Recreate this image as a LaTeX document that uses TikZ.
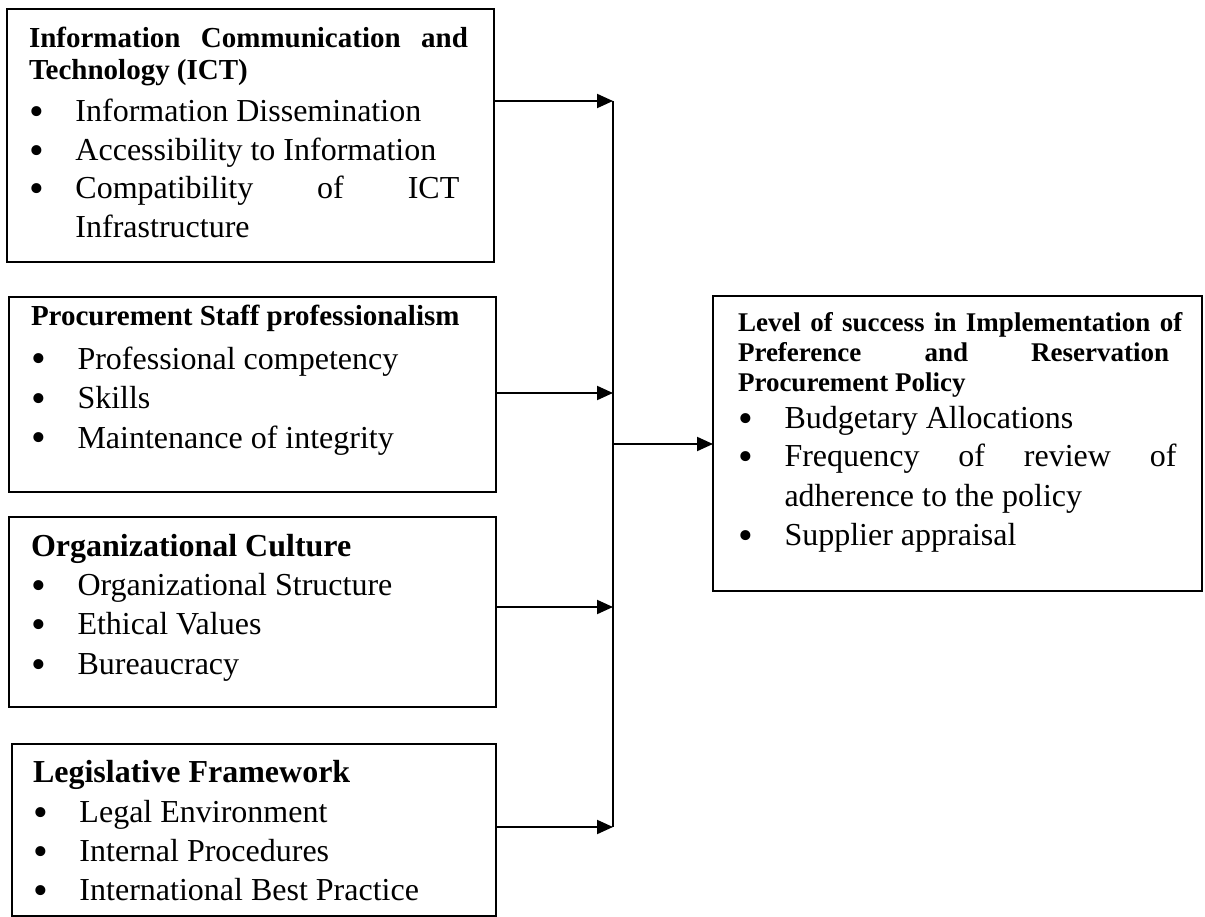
\documentclass[tikz,border=0pt]{standalone}
\usepackage{fontspec}
\setmainfont{Liberation Serif}
\usetikzlibrary{arrows.meta}
\tolerance=10000
\hbadness=10000
\hyphenpenalty=10000
\exhyphenpenalty=10000
\newcommand{\fs}[2]{\fontsize{#1}{#2}\selectfont\spaceskip=0.25em plus 3em minus 0.05em\relax\xspaceskip=\spaceskip}
\newcommand{\bul}{\makebox[46.5pt][l]{\raisebox{-4pt}{\fontsize{42}{42}\selectfont\symbol{"2022}}}}
\newcommand{\itm}[1]{\hangindent=46.5pt\hangafter=1\noindent\bul #1\par}
\tikzset{
  box/.style={draw, line width=2pt, inner sep=0pt, outer sep=0pt, anchor=north west},
  txt/.style={inner sep=0pt, outer sep=0pt, anchor=base west},
  arr/.style={line width=2pt, -{Triangle[length=16pt,width=14pt]}},
  vline/.style={line width=2pt}
}
\begin{document}
\begin{tikzpicture}[x=1pt,y=-1pt]
\useasboundingbox (0,0) rectangle (1205,917);
% boxes
\node[box, minimum width=487pt, minimum height=253pt] (ict) at (7,9) {};
\node[box, minimum width=487pt, minimum height=195pt] (staff) at (9,297) {};
\node[box, minimum width=487pt, minimum height=190pt] (cult) at (9,517) {};
\node[box, minimum width=484.5pt, minimum height=172pt] (legis) at (11.5,744) {};
\node[box, minimum width=489pt, minimum height=295pt] (out) at (713,296) {};
% texts
\node[txt, text width=442pt] (ictT) at (29,48) {\fs{29}{32}\bfseries Information Communication and\linebreak Technology (ICT)\par};
\node[txt, text width=442pt] (ictB) at (29,122) {\fs{32}{38.5}\itm{Information Dissemination}\itm{Accessibility to Information}\itm{Compatibility of ICT\linebreak Infrastructure}};
\node[txt, text width=442pt] (staffT) at (31,326) {\fs{29}{32}\bfseries Procurement Staff professionalism\par};
\node[txt, text width=442pt] (staffB) at (31,369) {\fs{32}{39.5}\itm{Professional competency}\itm{Skills}\itm{Maintenance of integrity}};
\node[txt, text width=442pt] (cultT) at (31,556) {\fs{32}{36}\bfseries Organizational Culture\par};
\node[txt, text width=442pt] (cultB) at (31,595) {\fs{32}{39.5}\itm{Organizational Structure}\itm{Ethical Values}\itm{Bureaucracy}};
\node[txt, text width=440pt] (legisT) at (33,782) {\fs{32}{36}\bfseries Legislative Framework\par};
\node[txt, text width=440pt] (legisB) at (33,822) {\fs{32}{39}\itm{Legal Environment}\itm{Internal Procedures}\itm{International Best Practice}};
\node[txt, text width=445pt] (outT) at (738,332) {\fs{27}{30}\bfseries Level of success in Implementation of\linebreak Preference and Reservation\linebreak Procurement Policy\par};
\node[txt, text width=445pt] (outB) at (738,428) {\fs{32}{39}\itm{Budgetary Allocations}\itm{Frequency of review of\linebreak adherence to the policy}\itm{Supplier appraisal}};
% connectors
\coordinate (j1) at (613,101);
\coordinate (j2) at (613,393);
\coordinate (j3) at (613,607);
\coordinate (j4) at (613,827);
\coordinate (j5) at (613,444);
\draw[arr] (ict.east |- j1) -- (j1);
\draw[arr] (staff.east |- j2) -- (j2);
\draw[arr] (cult.east |- j3) -- (j3);
\draw[arr] (legis.east |- j4) -- (j4);
\draw[vline] (j1) -- (j4);
\draw[arr] (j5) -- (out.west |- j5);
\end{tikzpicture}
\end{document}
